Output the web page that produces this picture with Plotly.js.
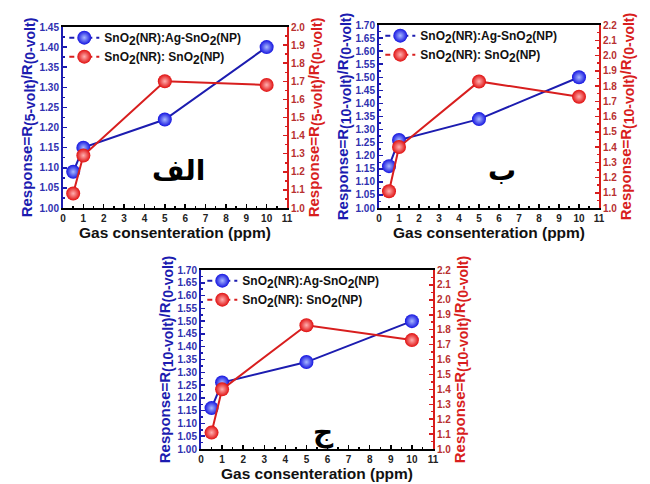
<!DOCTYPE html>
<html><head><meta charset="utf-8">
<script src="https://cdn.plot.ly/plotly-3.0.1.min.js"></script>
<style>body{margin:0;padding:0;background:#fff}#chart{width:650px;height:484px}</style>
</head><body><div id="chart"></div>
<script>
// Data
const concentration = [0.5, 1, 5, 10];
const agA  = [1.09, 1.15, 1.22, 1.40];   // panel الف, left axis
const pureA = [1.08, 1.29, 1.70, 1.68];  // panel الف, right axis
const agB  = [1.16, 1.26, 1.34, 1.50];   // panel ب
const pureB = [1.11, 1.40, 1.83, 1.73];
const agC  = [1.16, 1.26, 1.34, 1.50];   // panel ج
const pureC = [1.11, 1.40, 1.83, 1.73];
const seriesNames = ['SnO<sub><span style="font-size:12px">2</span></sub>(NR):Ag-SnO<sub><span style="font-size:12px">2</span></sub>(NP)',
                     'SnO<sub><span style="font-size:12px">2</span></sub>(NR): SnO<sub><span style="font-size:12px">2</span></sub>(NP)'];
const panelLabels = ['الف', 'ب', 'ج'];
const voltSub = ['(5-volt)', '(10-volt)', '(10-volt)'];
const zeroSub = '(0-volt)';
const xTitle = 'Gas consenteration (ppm)';
const leftRanges = [[1.00, 1.45], [1.00, 1.70], [1.00, 1.70]];
const rightRanges = [[1.0, 2.0], [1.0, 2.2], [1.0, 2.2]];

const BLUE = '#1c1cb0', RED = '#d81e1e';
const FONT = 'Arial, "Liberation Sans", sans-serif';
const sub = s => '<sub><span style="font-size:14px">' + s + '</span></sub>';
const yTitle = i => 'Response=R' + sub(voltSub[i]) + '/R' + sub(zeroSub);

const panels = [
  {ag: agA, pure: pureA, xd: [63/650, 287/650], yd: [1-208/484, 1-27/484]},
  {ag: agB, pure: pureB, xd: [379/650, 599/650], yd: [1-208/484, 1-25/484]},
  {ag: agC, pure: pureC, xd: [201/650, 433/650], yd: [1-449/484, 1-270/484]}
];

const traces = [];
const layout = {
  width: 650, height: 484, margin: {l:0, r:0, t:0, b:0},
  paper_bgcolor: '#fff', plot_bgcolor: '#fff', showlegend: true,
  font: {family: FONT, weight: 'bold'},
  annotations: []
};
const blueMarker = {size: 14, color: '#1414e0', gradient: {type: 'radial', color: '#a8b8ff'}, line: {width: 0}};
const redMarker = {size: 14, color: '#e01010', gradient: {type: 'radial', color: '#ffb0b0'}, line: {width: 0}};

panels.forEach((p, i) => {
  const xa = i === 0 ? 'x' : 'x' + (i+1);
  const yl = 'y' + (2*i+1 === 1 ? '' : (2*i+1));
  const yr = 'y' + (2*i+2);
  const lg = i === 0 ? 'legend' : 'legend' + (i+1);
  const xKey = i === 0 ? 'xaxis' : 'xaxis' + (i+1);
  const ylKey = 'yaxis' + (2*i+1 === 1 ? '' : (2*i+1));
  const yrKey = 'yaxis' + (2*i+2);

  traces.push({x: concentration, y: p.ag, xaxis: xa, yaxis: yl, mode: 'lines+markers', showlegend: false,
    line: {color: BLUE, width: 2}, marker: blueMarker});
  traces.push({x: concentration, y: p.pure, xaxis: xa, yaxis: yr, mode: 'lines+markers', showlegend: false,
    line: {color: RED, width: 2}, marker: redMarker});
  // legend entries (dashed line style as in the figure)
  traces.push({x: [null], y: [null], xaxis: xa, yaxis: yl, mode: 'lines+markers', name: seriesNames[0], legend: lg,
    line: {color: BLUE, width: 2, dash: '5px,4px'}, marker: blueMarker});
  traces.push({x: [null], y: [null], xaxis: xa, yaxis: yr, mode: 'lines+markers', name: seriesNames[1], legend: lg,
    line: {color: RED, width: 2, dash: '5px,4px'}, marker: redMarker});

  layout[xKey] = {domain: p.xd, anchor: yl, range: [0, 11], dtick: 1, tick0: 0,
    showline: true, linecolor: '#000', linewidth: 2, mirror: true, showgrid: false, zeroline: false,
    ticks: 'inside', ticklen: 4, tickcolor: '#000', tickwidth: 1.5,
    minor: {dtick: 0.5, ticks: 'inside', ticklen: 2, tickcolor: '#000'},
    tickfont: {size: 10, color: '#222', family: FONT, weight: 'bold'},
    title: {text: xTitle, font: {size: 15.5, color: '#111', family: FONT, weight: 'bold'}, standoff: 4}};
  layout[ylKey] = {domain: p.yd, anchor: xa, range: leftRanges[i], dtick: 0.05, tick0: 1, tickformat: '.2f',
    showline: true, linecolor: BLUE, linewidth: 2, showgrid: false, zeroline: false,
    ticks: 'inside', ticklen: 4, tickcolor: BLUE, tickwidth: 1.5,
    minor: {dtick: 0.025, ticks: 'inside', ticklen: 2, tickcolor: BLUE},
    tickfont: {size: 10, color: '#3030b0', family: FONT, weight: 'bold'},
    title: {text: yTitle(i), font: {size: 15, color: BLUE, family: FONT, weight: 'bold'}, standoff: 3}};
  layout[yrKey] = {domain: p.yd, anchor: xa, overlaying: yl, side: 'right', range: rightRanges[i], dtick: 0.1, tick0: 1, tickformat: '.1f',
    showline: true, linecolor: RED, linewidth: 2, showgrid: false, zeroline: false,
    ticks: 'inside', ticklen: 4, tickcolor: RED, tickwidth: 1.5,
    minor: {dtick: 0.05, ticks: 'inside', ticklen: 2, tickcolor: RED},
    tickfont: {size: 10, color: '#b83030', family: FONT, weight: 'bold'},
    title: {text: yTitle(i), font: {size: 15, color: RED, family: FONT, weight: 'bold'}, standoff: 3}};
  layout[lg] = {x: p.xd[0] + 0.002, y: p.yd[1] + 0.008, xanchor: 'left', yanchor: 'top',
    bgcolor: 'rgba(0,0,0,0)', borderwidth: 0, tracegroupgap: 0, itemwidth: 30,
    font: {size: 12, color: '#111', family: FONT, weight: 'bold'}};
});

const labelPos = [[178, 170], [502, 170], [323, 432]];
panelLabels.forEach((t, i) => {
  layout.annotations.push({text: t, xref: 'paper', yref: 'paper', x: labelPos[i][0]/650, y: 1 - labelPos[i][1]/484,
    xanchor: 'center', yanchor: 'middle', showarrow: false,
    font: {size: 28, color: '#000', family: '"DejaVu Sans", sans-serif', weight: 'bold'}});
});

Plotly.newPlot('chart', traces, layout, {displayModeBar: false, staticPlot: true});
</script>
</body></html>
